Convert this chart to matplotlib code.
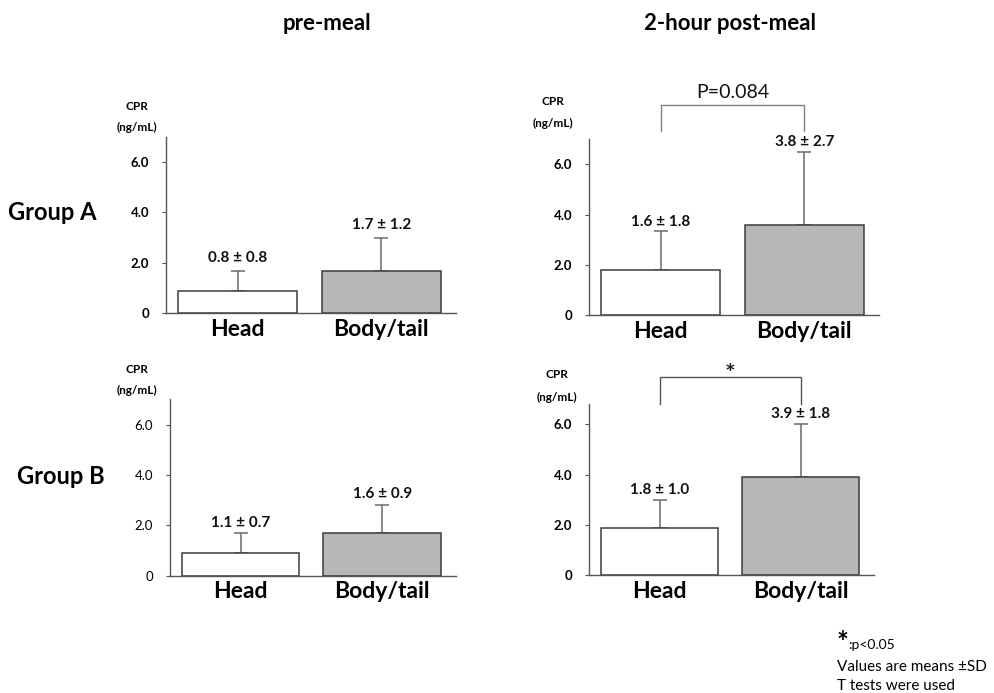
import matplotlib
matplotlib.use("Agg")
import matplotlib.pyplot as plt

plt.rcParams['font.family'] = ['Lato', 'DejaVu Sans']

W, H = 995, 693

categories = ["Head", "Body/tail"]
col_titles = ["pre-meal", "2-hour post-meal"]
row_titles = ["Group A", "Group B"]

# bar heights and upper error as drawn (mean, sd)
pre_a_mean = [0.87, 1.68]
pre_a_sd = [0.81, 1.31]
post_a_mean = [1.81, 3.61]
post_a_sd = [1.56, 2.88]
pre_b_mean = [0.90, 1.71]
pre_b_sd = [0.80, 1.11]
post_b_mean = [1.87, 3.89]
post_b_sd = [1.13, 2.11]

pre_a_labels = ["0.8 ± 0.8", "1.7 ± 1.2"]
post_a_labels = ["1.6 ± 1.8", "3.8 ± 2.7"]
pre_b_labels = ["1.1 ± 0.7", "1.6 ± 0.9"]
post_b_labels = ["1.8 ± 1.0", "3.9 ± 1.8"]

yticks = [0, 2, 4, 6]
ytick_labels = ["0", "2.0", "4.0", "6.0"]

bar_colors = ["white", "#b7b7b7"]


def px(x, y):
    return x / W, 1 - y / H


fig = plt.figure(figsize=(W / 100, H / 100), dpi=100)


def panel(left, right, y0, ytop, ymax, means, sds, labels, bold_ticks=True,
          label_off=(12, 10)):
    ax = fig.add_axes([left / W, 1 - y0 / H, (right - left) / W, (y0 - ytop) / H])
    x = range(len(categories))
    ax.bar(x, means, width=0.83, color=bar_colors, edgecolor="#3c3c3c",
           linewidth=1.1, zorder=2)
    ax.errorbar(x, means, yerr=[[0, 0], sds], fmt="none", ecolor="#6a6a6a",
                elinewidth=1.1, capsize=5, capthick=1.1, zorder=1)
    for i in x:
        ax.annotate(labels[i], (i, means[i] + sds[i]), xytext=(0, label_off[i]),
                    textcoords="offset pixels", ha="center", va="center",
                    fontsize=11, fontweight="bold", color="#111111")
    ax.set_xlim(-0.5, 1.52)
    ax.set_ylim(0, ymax)
    ax.set_yticks(yticks)
    ax.set_yticklabels(ytick_labels, fontsize=9.5,
                       fontweight="bold" if bold_ticks else "normal")
    ax.set_xticks(list(x))
    ax.set_xticklabels(categories, fontsize=16.5, fontweight="bold")
    ax.tick_params(axis="x", length=0, pad=4)
    ax.tick_params(axis="y", length=3, width=0.8, color="#555555", pad=9)
    for s in ["top", "right"]:
        ax.spines[s].set_visible(False)
    for s in ["left", "bottom"]:
        ax.spines[s].set_color("#555555")
        ax.spines[s].set_linewidth(1.0)
    ax.set_facecolor("none")
    return ax


ax1 = panel(166, 456, 313, 137, 7.0, pre_a_mean, pre_a_sd, pre_a_labels,
            label_off=(13, 13))
ax2 = panel(589, 879, 315.3, 139.3, 7.0, post_a_mean, post_a_sd, post_a_labels,
            label_off=(9, 10))
ax3 = panel(169.7, 456, 575.7, 399.3, 7.0, pre_b_mean, pre_b_sd, pre_b_labels,
            bold_ticks=False, label_off=(10, 11))
ax4 = panel(589, 874, 575.3, 404.3, 6.8, post_b_mean, post_b_sd, post_b_labels,
            label_off=(10, 10))

# significance brackets
ax2.plot([0, 0, 1, 1], [7.35, 8.37, 8.37, 7.35], color="#808080", lw=1.0,
         clip_on=False)
ax2.text(0.5, 8.87, "P=0.084", ha="center", va="center", fontsize=14,
         color="#111111")
ax4.plot([0, 0, 1, 1], [6.83, 7.89, 7.89, 6.83], color="#555555", lw=1.0,
         clip_on=False)
ax4.text(0.5, 7.98, "*", ha="center", va="center", fontsize=18,
         fontweight="bold", color="#222222")

# axis unit labels
for (x, y1, y2) in [(137, 106.7, 127.3), (553, 101.7, 123.3),
                    (137, 369.3, 390), (557, 375, 397.7)]:
    fig.text(*px(x, y1), "CPR", ha="center", va="center", fontsize=8.5,
             fontweight="bold")
    fig.text(*px(x, y2), "(ng/mL)", ha="center", va="center", fontsize=8.5,
             fontweight="bold")

# column and row titles
fig.text(*px(327, 23), col_titles[0], ha="center", va="center", fontsize=16,
         fontweight="bold")
fig.text(*px(730, 23), col_titles[1], ha="center", va="center", fontsize=16,
         fontweight="bold")
fig.text(*px(8, 212), row_titles[0], ha="left", va="center", fontsize=17,
         fontweight="bold")
fig.text(*px(17, 477), row_titles[1], ha="left", va="center", fontsize=17,
         fontweight="bold")

# footnote
fig.text(*px(837, 643), "*", ha="left", va="center", fontsize=20,
         fontweight="bold")
fig.text(*px(848, 645), ":p<0.05", ha="left", va="center", fontsize=10)
fig.text(*px(837, 667), "Values are means ±SD", ha="left", va="center",
         fontsize=11)
fig.text(*px(837, 686), "T tests were used", ha="left", va="center",
         fontsize=11)

fig.savefig("out.png", dpi=100)
